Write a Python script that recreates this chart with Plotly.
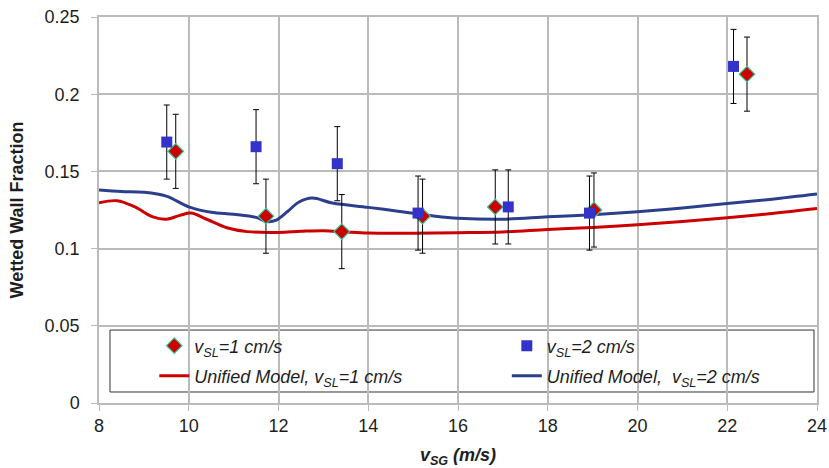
import plotly.graph_objects as go

# Measured wetted wall fraction vs superficial gas velocity
vsg_1 = [9.71, 11.72, 13.41, 15.21, 16.83, 19.03, 22.44]
wwf_1 = [0.163, 0.121, 0.111, 0.121, 0.127, 0.125, 0.213]
err_1 = [0.024, 0.024, 0.024, 0.024, 0.024, 0.024, 0.024]

vsg_2 = [9.51, 11.50, 13.31, 15.11, 17.12, 18.93, 22.14]
wwf_2 = [0.169, 0.166, 0.155, 0.123, 0.127, 0.123, 0.218]
err_2 = [0.024, 0.024, 0.024, 0.024, 0.024, 0.024, 0.024]

# Unified model predictions
model_x_1 = [8.0, 8.4, 8.8, 9.2, 9.5, 9.8, 10.05, 10.4, 10.85, 11.3, 12.0, 12.5,
             13.0, 13.5, 14.0, 15.0, 16.0, 17.0, 18.0, 19.0, 20.0, 21.0, 22.0, 23.0, 24.0]
model_y_1 = [0.1296, 0.131, 0.127, 0.1205, 0.119, 0.1215, 0.123, 0.119, 0.1135, 0.111,
             0.1105, 0.1112, 0.1116, 0.1108, 0.1101, 0.110, 0.1103, 0.1108, 0.1124,
             0.1137, 0.1155, 0.1176, 0.120, 0.1228, 0.126]

model_x_2 = [8.0, 8.5, 9.0, 9.5, 10.0, 10.5, 11.0, 11.5, 11.75, 11.95, 12.2, 12.45,
             12.75, 13.2, 14.0, 14.7, 15.5, 16.0, 17.0, 18.0, 19.0, 20.0, 21.0, 22.0, 23.0, 24.0]
model_y_2 = [0.138, 0.137, 0.1365, 0.134, 0.127, 0.1235, 0.1222, 0.1202, 0.1175, 0.1185,
             0.124, 0.130, 0.1327, 0.1295, 0.1267, 0.1241, 0.121, 0.1197, 0.119, 0.1206,
             0.122, 0.1239, 0.1263, 0.1292, 0.132, 0.1353]

x_ticks = [8, 10, 12, 14, 16, 18, 20, 22, 24]
y_ticks = [0, 0.05, 0.1, 0.15, 0.2, 0.25]
y_tick_text = ["0", "0.05", "0.1", "0.15", "0.2", "0.25"]

FONT = "Liberation Sans, Arial, sans-serif"
GRID = "#BBBBBB"
TEXT = "#1E1E1E"

fig = go.Figure()

fig.add_trace(go.Scatter(
    x=model_x_1, y=model_y_1, mode="lines", legend="legend3",
    name="<i>Unified Model, v<sub>SL</sub>=1 cm/s</i>",
    line=dict(color="#CC0000", width=3, shape="spline", smoothing=1.0),
))
fig.add_trace(go.Scatter(
    x=model_x_2, y=model_y_2, mode="lines", legend="legend4",
    name="<i>Unified Model,  v<sub>SL</sub>=2 cm/s</i>",
    line=dict(color="#2B3F8C", width=3, shape="spline", smoothing=1.0),
))
fig.add_trace(go.Scatter(
    x=vsg_1, y=wwf_1, mode="markers", legend="legend",
    name="<i>v<sub>SL</sub>=1 cm/s</i>",
    marker=dict(symbol="diamond", size=12, color="#CC0000",
                line=dict(color="#33CC99", width=1.2)),
    error_y=dict(type="data", array=err_1, color="black", thickness=1, width=3),
))
fig.add_trace(go.Scatter(
    x=vsg_2, y=wwf_2, mode="markers", legend="legend2",
    name="<i>v<sub>SL</sub>=2 cm/s</i>",
    marker=dict(symbol="square", size=11, color="#3333CC"),
    error_y=dict(type="data", array=err_2, color="black", thickness=1, width=3),
))

# Legend frame
fig.add_shape(type="rect", xref="paper", yref="paper",
              x0=0.0153, x1=0.9958, y0=0.0285, y1=0.189,
              line=dict(color="#333333", width=1), fillcolor="white", layer="below")


def legend_at(x, y):
    return dict(
        x=x, y=y, xanchor="left", yanchor="middle",
        bgcolor="rgba(0,0,0,0)", borderwidth=0, itemwidth=30,
        font=dict(family=FONT, size=18, color=TEXT),
    )


fig.update_layout(
    width=829, height=468,
    margin=dict(l=99, r=12, t=17, b=65),
    paper_bgcolor="white", plot_bgcolor="white",
    font=dict(family=FONT, size=18, color=TEXT),
    showlegend=True,
    legend=legend_at(0.077, 0.1477),
    legend2=legend_at(0.568, 0.1477),
    legend3=legend_at(0.077, 0.0699),
    legend4=legend_at(0.568, 0.0699),
    xaxis=dict(
        range=[8, 24], tickvals=x_ticks, showgrid=True, gridcolor=GRID, gridwidth=1.5,
        showline=True, linecolor=GRID, linewidth=1.5, mirror=True, zeroline=False,
        ticks="outside", ticklen=6, tickcolor=GRID, automargin=False,
        tickfont=dict(size=18, color=TEXT),
        title=dict(text="<b><i>v<sub>SG</sub> (m/s)</i></b>", font=dict(size=18), standoff=15),
    ),
    yaxis=dict(
        range=[0, 0.25], tickvals=y_ticks, ticktext=y_tick_text,
        showgrid=True, gridcolor=GRID, gridwidth=1.5,
        showline=True, linecolor=GRID, linewidth=1.5, mirror=True, zeroline=False,
        ticks="outside", ticklen=6, tickcolor=GRID, automargin=False,
        ticklabelstandoff=8,
        tickfont=dict(size=18, color=TEXT),
        title=dict(text="<b>Wetted Wall Fraction</b>", font=dict(size=18), standoff=16),
    ),
)

fig.write_html("out.html")
